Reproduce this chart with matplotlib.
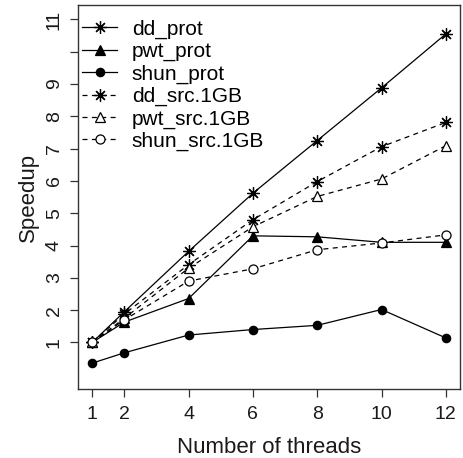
import matplotlib
matplotlib.use("Agg")
import matplotlib.pyplot as plt
from matplotlib.lines import Line2D

plt.rcParams.update({
    "font.family": ["Liberation Sans", "DejaVu Sans"],
})

threads = [1, 2, 4, 6, 8, 10, 12]
dd_prot = [1.0, 1.95, 3.82, 5.62, 7.25, 8.88, 10.55]
pwt_prot = [1.0, 1.63, 2.36, 4.30, 4.27, 4.10, 4.10]
shun_prot = [0.36, 0.68, 1.23, 1.40, 1.53, 2.02, 1.14]
dd_src = [1.0, 1.88, 3.41, 4.80, 5.98, 7.06, 7.81]
pwt_src = [1.0, 1.75, 3.30, 4.58, 5.52, 6.06, 7.09]
shun_src = [1.0, 1.70, 2.90, 3.28, 3.87, 4.08, 4.33]

labels = ["dd_prot", "pwt_prot", "shun_prot",
          "dd_src.1GB", "pwt_src.1GB", "shun_src.1GB"]
yticks = list(range(1, 12))
ytick_labels = ["1", "2", "3", "4", "5", "6", "7", "8", "9", "", "11"]

ast = (8, 2, 0)  # R pch 8 asterisk
solid = "-"
dash = (0, (4, 3.5))

fig = plt.figure(figsize=(4.63, 4.58), dpi=100)
ax = fig.add_axes([0.1685, 0.1507, 0.825, 0.838])

common = dict(color="black", lw=0.9)
series = [
    (dd_prot, solid, ast, "black", 9),
    (pwt_prot, solid, "^", "black", 6.5),
    (shun_prot, solid, "o", "black", 6),
    (dd_src, dash, ast, "black", 9),
    (pwt_src, dash, "^", "white", 7.5),
    (shun_src, dash, "o", "white", 6.5),
]
for vals, ls, mk, fc, ms in series:
    ax.plot(threads, vals, linestyle=ls, marker=mk, markerfacecolor=fc,
            markeredgecolor="black", markersize=ms, markeredgewidth=0.9,
            **common)

handles = [Line2D([], [], linestyle=ls, marker=mk, markerfacecolor=fc,
                  markeredgecolor="black", markersize=ms,
                  markeredgewidth=0.9, **common)
           for _, ls, mk, fc, ms in series]
ax.legend(handles, labels, loc="upper left", frameon=False, fontsize=15,
          handlelength=1.7, handletextpad=0.7, labelspacing=0.15,
          borderpad=0.0, borderaxespad=0.0,
          bbox_to_anchor=(0.01, 0.962))

ax.set_xlim(0.56, 12.44)
ax.set_ylim(-0.44, 11.44)
ax.set_xticks(threads)
ax.set_yticks(yticks)
ax.set_yticklabels(ytick_labels, rotation=90, va="center")
ax.tick_params(direction="out", length=6, width=0.9, labelsize=14,
               color="#333333", labelcolor="#1a1a1a")
ax.tick_params(axis="y", pad=5)
ax.tick_params(axis="x", pad=6)
for s in ax.spines.values():
    s.set_color("#333333")
    s.set_linewidth(1.0)

ax.set_xlabel("Number of threads", fontsize=16, labelpad=10, color="#1a1a1a")
ax.set_ylabel("Speedup", fontsize=16, labelpad=5, color="#1a1a1a")

fig.savefig("out.png", dpi=100, facecolor="white")
